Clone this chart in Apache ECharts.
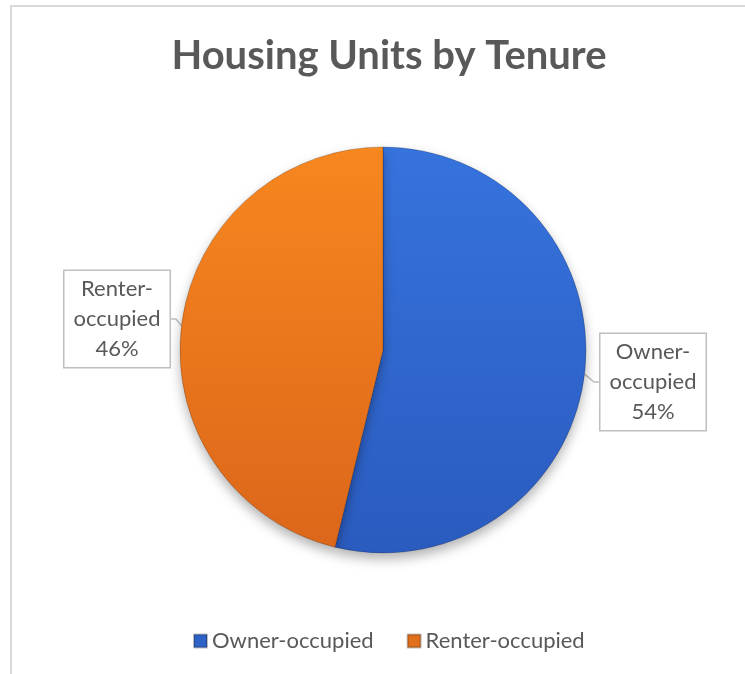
<!DOCTYPE html>
<html>
<head>
<meta charset="utf-8">
<script src="https://cdn.jsdelivr.net/npm/echarts@6/dist/echarts.min.js"></script>
<style>
html, body { margin: 0; padding: 0; background: #fff; }
#chart { width: 745px; height: 674px; }
</style>
</head>
<body>
<div id="chart"></div>
<script>
var categories = ['Owner-occupied', 'Renter-occupied'];
var shares = [53.8, 46.2];
var labelSpots = [[653, 382], [117, 319]];

var myChart = echarts.init(document.getElementById('chart'));

var colors = [
    new echarts.graphic.LinearGradient(0, 0, 0, 1, [
        {offset: 0, color: '#3673dd'},
        {offset: 1, color: '#2a5bbf'}
    ]),
    new echarts.graphic.LinearGradient(0, 0, 0, 1, [
        {offset: 0, color: '#f7871f'},
        {offset: 1, color: '#dc661a'}
    ])
];
var legendColors = ['#2f62c6', '#e0701c'];

var data = categories.map(function (name, i) {
    return {
        name: name,
        value: shares[i],
        itemStyle: {color: colors[i]}
    };
});

myChart.setOption({
    animation: false,
    title: {
        text: 'Housing Units by Tenure',
        left: 384,
        textAlign: 'center',
        top: 31,
        textStyle: {
            fontFamily: 'Lato',
            fontWeight: 'bold',
            fontSize: 40,
            color: '#595959'
        }
    },
    legend: {
        bottom: 17,
        left: 188,
        itemWidth: 13,
        itemHeight: 13,
        itemGap: 33,
        icon: 'rect',
        data: categories.map(function (c, i) {
            return {name: c, itemStyle: {color: legendColors[i]}};
        }),
        textStyle: {
            fontFamily: 'Lato',
            fontSize: 22,
            color: '#595959'
        }
    },
    graphic: [{
        type: 'rect',
        shape: {x: 11, y: 6, width: 800, height: 800},
        style: {fill: 'none', stroke: '#d9d9d9', lineWidth: 2},
        silent: true
    }],
    series: [{
        type: 'pie',
        center: [383, 350],
        radius: [0, 203],
        startAngle: 90,
        clockwise: true,
        percentPrecision: 0,
        itemStyle: {
            borderColor: 'rgba(0,0,0,0.25)',
            borderWidth: 0.8,
            shadowBlur: 12,
            shadowOffsetY: 6,
            shadowColor: 'rgba(0,0,0,0.3)'
        },
        label: {
            show: true,
            position: 'outside',
            formatter: function (p) {
                return p.name.replace('-', '-\n') + '\n' + p.percent + '%';
            },
            fontFamily: 'Lato',
            fontSize: 22,
            lineHeight: 30,
            color: '#595959',
            align: 'center',
            backgroundColor: '#fff',
            borderColor: '#bfbfbf',
            borderWidth: 1.5,
            width: 95,
            padding: [3, 5]
        },
        labelLine: {
            show: true,
            length: 5,
            length2: 5,
            lineStyle: {color: '#bfbfbf', width: 1.5}
        },
        labelLayout: function (params) {
            var s = labelSpots[params.dataIndex];
            return {x: s[0], y: s[1], align: 'center', verticalAlign: 'middle'};
        },
        emphasis: {disabled: true},
        data: data
    }]
});
</script>
</body>
</html>
